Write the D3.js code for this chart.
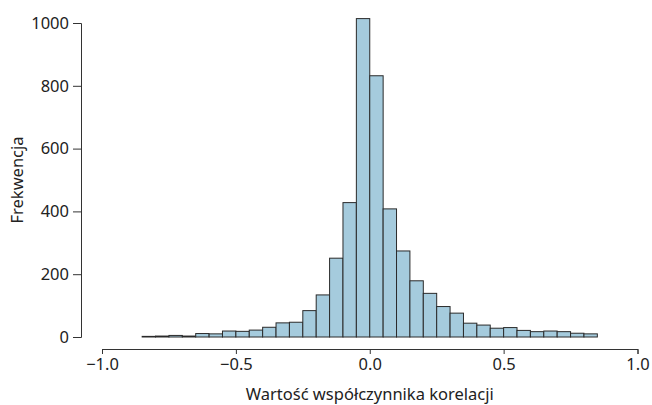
<!DOCTYPE html>
<html>
<head>
<meta charset="utf-8">
<script src="https://cdn.jsdelivr.net/npm/d3@7"></script>
<style>
  body { margin: 0; background: #fff; }
  text { font-family: "Noto Sans", "Open Sans", sans-serif; fill: #222; }
</style>
</head>
<body>
<div id="chart"></div>
<script>
'use strict';

// bin lower edges (width 0.05)
const binStarts = [-0.85, -0.80, -0.75, -0.70, -0.65, -0.60, -0.55, -0.50, -0.45, -0.40,
  -0.35, -0.30, -0.25, -0.20, -0.15, -0.10, -0.05, 0.00, 0.05, 0.10,
  0.15, 0.20, 0.25, 0.30, 0.35, 0.40, 0.45, 0.50, 0.55, 0.60,
  0.65, 0.70, 0.75, 0.80];
const binWidth = 0.05;

// counts
const counts = [2, 3, 5, 3, 11, 10, 19, 18, 22, 31,
  45, 47, 84, 134, 251, 428, 1014, 832, 408, 274,
  179, 139, 97, 76, 44, 38, 28, 30, 21, 17,
  19, 17, 12, 10];

const xTicks = [-1.0, -0.5, 0.0, 0.5, 1.0];
const yTicks = [0, 200, 400, 600, 800, 1000];

const xTitle = 'Wartość współczynnika korelacji';
const yTitle = 'Frekwencja';

const W = 652, H = 405;

const svg = d3.select('#chart').append('svg')
    .attr('width', W)
    .attr('height', H);

const x = d3.scaleLinear().domain([-1, 1]).range([102, 637.5]);
const y = d3.scaleLinear().domain([0, 1000]).range([337, 23]);

const bins = binStarts.map((b, i) => ({x0: b, x1: b + binWidth, n: counts[i]}));

svg.append('g')
    .selectAll('rect')
    .data(bins)
    .enter()
    .append('rect')
    .attr('x', d => x(d.x0))
    .attr('y', d => y(d.n))
    .attr('width', d => x(d.x1) - x(d.x0))
    .attr('height', d => y(0) - y(d.n))
    .style('fill', '#a5cbdd')
    .style('stroke', '#2a2a2a')
    .style('stroke-width', 1);

// axes
const gx = svg.append('g')
    .attr('transform', 'translate(0,349)')
    .call(d3.axisBottom(x).tickValues(xTicks).tickFormat(d3.format('.1f'))
        .tickSizeOuter(0).tickSize(5).tickPadding(4));

const gy = svg.append('g')
    .attr('transform', 'translate(81,0)')
    .call(d3.axisLeft(y).tickValues(yTicks).tickFormat(d3.format('d'))
        .tickSizeOuter(0).tickSize(8).tickPadding(4));

[gx, gy].forEach(g => {
    g.select('.domain').attr('stroke', '#333');
    g.selectAll('.tick line').attr('stroke', '#333');
    g.selectAll('.tick text').style('font-size', '16.5px').attr('fill', '#222');
});

svg.append('text')
    .attr('x', x(0))
    .attr('y', 400)
    .attr('text-anchor', 'middle')
    .style('font-size', '16.5px')
    .text(xTitle);

svg.append('text')
    .attr('transform', 'translate(23,180) rotate(-90)')
    .attr('text-anchor', 'middle')
    .style('font-size', '16.5px')
    .text(yTitle);
</script>
</body>
</html>
